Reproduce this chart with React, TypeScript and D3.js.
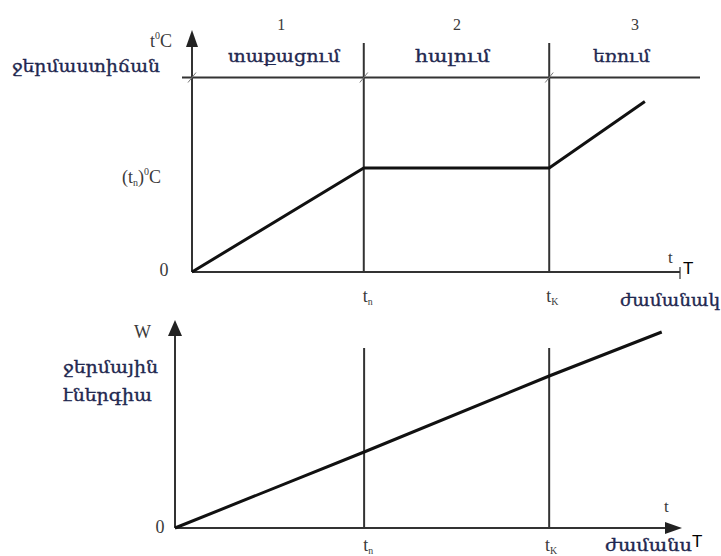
import React from "react";
import * as d3 from "d3";

// ---- Data ----
// Top panel: temperature vs time (arbitrary units)
const tempTimes = [0, 3.52, 7.32, 9.28];
const tempValues = [0, 1, 1, 1.64];
const tempMarkers = [3.52, 7.32]; // t_n, t_K
const phaseNumbers = ["1", "2", "3"];
const phaseNames = ["տաքացում", "հալում", "եռում"];
const phaseCenters = [1.85, 5.45, 9.1];
const headerLevel = 1.87;

// Bottom panel: thermal energy vs time
const energyTimes = [0, 3.73, 7.38, 9.6];
const energyValues = [0, 0.95, 1.9, 2.45];
const energyMarkers = [3.73, 7.38];

const W = 721;
const H = 556;

// Scales
const xTop = d3.scaleLinear().domain([0, 10]).range([192, 680]);
const yTop = d3.scaleLinear().domain([0, 1]).range([272, 168]);
const xBot = d3.scaleLinear().domain([0, 10]).range([175, 682]);
const yBot = d3.scaleLinear().domain([0, 1]).range([528, 448]);

const axisColor = "#333";
const textGray = "#3a3a3a";
const armColor = "#1f2850";
const serif = "'Liberation Serif', 'DejaVu Serif', serif";
const armFont = "'DejaVu Serif', serif";

export default function App() {
  const lineTop = d3
    .line<number>()
    .x((_, i) => xTop(tempTimes[i]))
    .y((d) => yTop(d));
  const lineBot = d3
    .line<number>()
    .x((_, i) => xBot(energyTimes[i]))
    .y((d) => yBot(d));

  const topY0 = yTop(0);
  const headerY = yTop(headerLevel);
  const botY0 = yBot(0);

  const sub = (main: string, s: string, x: number, y: number, size = 18) => (
    <text x={x} y={y} fontFamily={serif} fontSize={size} fill={textGray} textAnchor="middle">
      {main}
      <tspan fontSize={size * 0.55} dy={3}>{s}</tspan>
    </text>
  );

  const armStyle = { stroke: armColor, strokeWidth: 0.35 };

  return (
    <svg width={W} height={H} style={{ position: "absolute", left: 0, top: 0, background: "#fff" }}>
      <rect width={W} height={H} fill="#fff" />

      {/* ===== Top panel ===== */}
      <line x1={xTop(0)} y1={topY0} x2={xTop(0)} y2={45} stroke={axisColor} strokeWidth={2} />
      <path d={`M${xTop(0)},30 L${xTop(0) - 6},47 L${xTop(0) + 6},47 Z`} fill="#222" />
      <line x1={xTop(0)} y1={topY0} x2={xTop(10)} y2={topY0} stroke={axisColor} strokeWidth={2} />
      <line x1={xTop(10)} y1={topY0 - 5} x2={xTop(10)} y2={topY0 + 7} stroke={axisColor} strokeWidth={1.2} />
      <line x1={182} y1={headerY} x2={700} y2={headerY} stroke={axisColor} strokeWidth={2.2} />
      {tempMarkers.map((t, i) => (
        <line key={i} x1={xTop(t)} y1={43} x2={xTop(t)} y2={topY0} stroke={axisColor} strokeWidth={2} />
      ))}
      {[0, ...tempMarkers].map((t, i) => (
        <line key={"tk" + i} x1={xTop(t) - 4} y1={headerY + 5} x2={xTop(t) + 4} y2={headerY - 5} stroke="#777" strokeWidth={1} />
      ))}
      <path d={lineTop(tempValues) || ""} fill="none" stroke="#111" strokeWidth={3} />

      {phaseNumbers.map((n, i) => (
        <text key={"n" + i} x={xTop(phaseCenters[i]) - 1} y={30} fontFamily={serif} fontSize={16} fill={textGray} textAnchor="middle">
          {n}
        </text>
      ))}
      <text x={228} y={62} fontFamily={armFont} fontSize={17} fill={armColor} style={armStyle} textLength={112} lengthAdjust="spacingAndGlyphs">
        {phaseNames[0]}
      </text>
      <text x={415} y={62} fontFamily={armFont} fontSize={17} fill={armColor} style={armStyle} textLength={75} lengthAdjust="spacingAndGlyphs">
        {phaseNames[1]}
      </text>
      <text x={593} y={62} fontFamily={armFont} fontSize={17} fill={armColor} style={armStyle} textLength={57} lengthAdjust="spacingAndGlyphs">
        {phaseNames[2]}
      </text>

      <text x={150} y={47} fontFamily={serif} fontSize={18} fill={textGray}>
        t<tspan fontSize={10} dy={-8}>0</tspan>
        <tspan dy={8}>C</tspan>
      </text>
      <text x={12} y={72} fontFamily={armFont} fontSize={17} fill={armColor} style={armStyle} textLength={148} lengthAdjust="spacingAndGlyphs">
        ջերմաստիճան
      </text>
      <text x={122} y={183} fontFamily={serif} fontSize={18} fill={textGray}>
        (t<tspan fontSize={10} dy={3}>n</tspan>
        <tspan dy={-3}>)</tspan>
        <tspan fontSize={10} dy={-8}>0</tspan>
        <tspan dy={8}>C</tspan>
      </text>
      <text x={164} y={276} fontFamily={serif} fontSize={18} fill={textGray} textAnchor="middle">
        0
      </text>
      <text x={668} y={263} fontFamily={serif} fontSize={17} fill={textGray}>
        t
      </text>
      <text x={683} y={274} fontFamily="'Liberation Sans', Arial, sans-serif" fontSize={17} fill="#000">
        T
      </text>
      {sub("t", "n", xTop(tempMarkers[0]) + 4, 302)}
      {sub("t", "K", xTop(tempMarkers[1]) + 3, 302)}
      <text x={620} y={306} fontFamily={armFont} fontSize={17} fill={armColor} style={armStyle} textLength={100} lengthAdjust="spacingAndGlyphs">
        ժամանակ
      </text>

      {/* ===== Bottom panel ===== */}
      <line x1={xBot(0)} y1={botY0} x2={xBot(0)} y2={334} stroke={axisColor} strokeWidth={2} />
      <path d={`M${xBot(0)},320 L${xBot(0) - 7},336 L${xBot(0) + 7},336 Z`} fill="#222" />
      <line x1={xBot(0)} y1={botY0} x2={667} y2={botY0} stroke={axisColor} strokeWidth={2} />
      <path d={`M${xBot(10)},${botY0} L665,${botY0 - 6} L665,${botY0 + 6} Z`} fill="#222" />
      {energyMarkers.map((t, i) => (
        <line key={"bm" + i} x1={xBot(t)} y1={348} x2={xBot(t)} y2={botY0} stroke={axisColor} strokeWidth={2} />
      ))}
      <path d={lineBot(energyValues) || ""} fill="none" stroke="#111" strokeWidth={3} />

      <text x={134} y={338} fontFamily={serif} fontSize={18} fill={textGray}>
        W
      </text>
      <text x={63} y={373} fontFamily={armFont} fontSize={17} fill={armColor} style={armStyle} textLength={95} lengthAdjust="spacingAndGlyphs">
        ջերմային
      </text>
      <text x={63} y={401} fontFamily={armFont} fontSize={17} fill={armColor} style={armStyle} textLength={89} lengthAdjust="spacingAndGlyphs">
        էներգիա
      </text>
      <text x={160} y={533} fontFamily={serif} fontSize={18} fill={textGray} textAnchor="middle">
        0
      </text>
      <text x={664} y={512} fontFamily={serif} fontSize={17} fill={textGray}>
        t
      </text>
      {sub("t", "n", xBot(energyMarkers[0]) + 4, 551)}
      {sub("t", "K", xBot(energyMarkers[1]) + 2, 551)}
      <text x={605} y={551} fontFamily={armFont} fontSize={16} fill={armColor} style={armStyle} textLength={87} lengthAdjust="spacingAndGlyphs">
        ժամանս
      </text>
      <text x={692} y={547} fontFamily="'Liberation Sans', Arial, sans-serif" fontSize={17} fill="#000">
        T
      </text>
    </svg>
  );
}
